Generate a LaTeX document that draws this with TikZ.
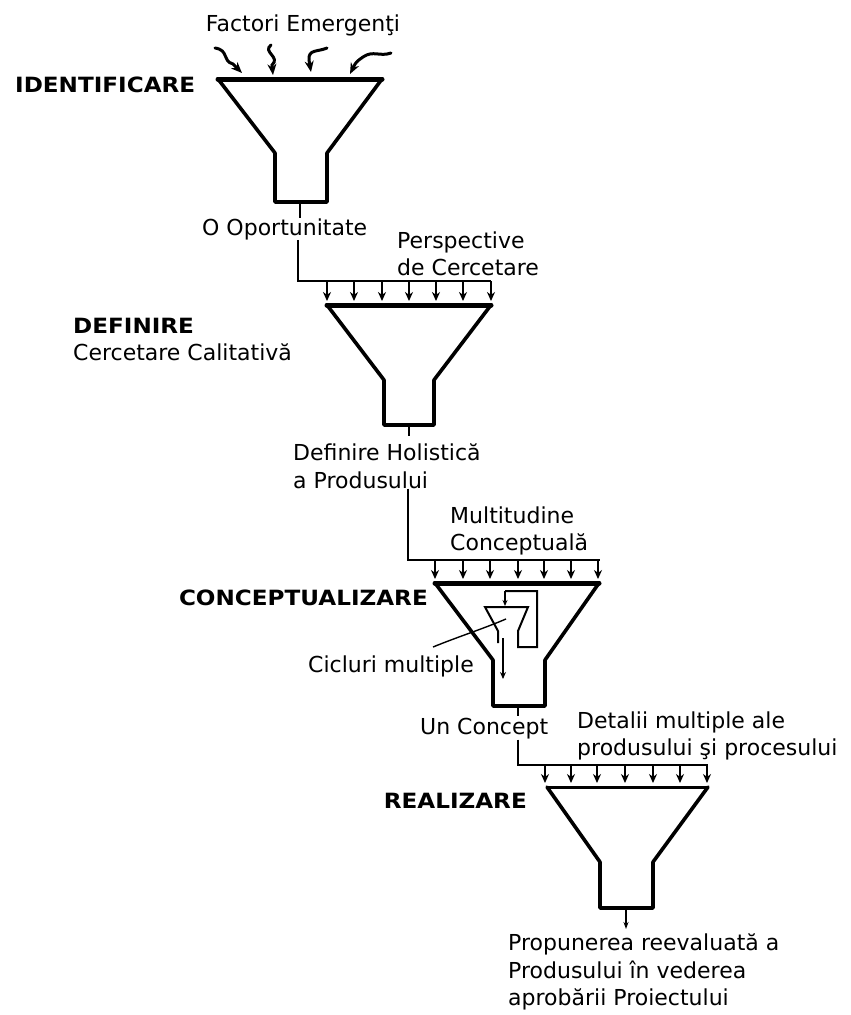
\documentclass[tikz,border=0pt]{standalone}
\usepackage{fontspec}
\setmainfont{DejaVu Sans}
\newfontfamily\stagefam{DejaVu Sans Bold}[FakeStretch=1.1]
\usetikzlibrary{arrows.meta}
\newcommand\lblfont{\fontsize{22}{27.5}\selectfont}
\newcommand\stagefont{\stagefam\fontsize{21}{26}\selectfont}
\tikzset{
  funnelline/.style={line width=3.6pt, line join=round, line cap=round},
  rim/.style={line width=5pt, line cap=round},
  feed/.style={line width=1.8pt, line join=miter},
  drop/.style={line width=1.5pt, -{Stealth[length=9pt,width=8pt]}},
  squiggle/.style={line width=3pt, line cap=round, -{Stealth[length=11pt,width=9pt]}},
  thinline/.style={line width=2pt, line join=miter},
  lbl/.style={font=\lblfont, inner sep=0pt, align=left, anchor=west},
  stagelbl/.style={font=\stagefont, inner sep=0pt, anchor=west},
}
\begin{document}
\begin{tikzpicture}[x=1pt, y=-1pt]
\useasboundingbox (0,0) rectangle (851,1015);

% ---------- stage 1: identificare ----------
\node[lbl, anchor=center] (factori) at (303,25) {Factori Emergenţi};
\node[stagelbl] (identif) at (15,85) {IDENTIFICARE};
\draw[funnelline] (218,79) -- (275,153) -- (275,202) -- (327,202) -- (327,153) -- (382,79);
\draw[rim] (218,79) -- (382,79);
\draw[squiggle] (215,48) .. controls (229,50) and (222,61) .. (233,64) -- (242,73);
\draw[squiggle] (271,45) .. controls (262,52) and (281,57) .. (272,65) -- (273,75);
\draw[squiggle] (327,48) .. controls (318,52) and (308,49) .. (309,60) -- (311,72);
\draw[squiggle] (391,53) .. controls (380,57) and (373,50) .. (363,57) .. controls (356,62) .. (350,74);
\coordinate (f1out) at (300,202);
\node[lbl] (opp) at (202,229) {O Oportunitate};
\draw[feed] (f1out) -- (f1out |- opp.north);

% ---------- stage 2: definire ----------
\node[lbl] (persp) at (397,254) {Perspective\\de Cercetare};
\coordinate (bar2) at (491,281);
\draw[feed] (opp.south -| 298,0) -- (298,281) -- (bar2);
\foreach \x in {327,354,382,409,436,463,491}
  \draw[drop] (\x,281) -- (\x,301);
\draw[funnelline] (327,305) -- (384,380) -- (384,425) -- (434,425) -- (434,380) -- (491,305);
\draw[rim] (327,305) -- (491,305);
\node[stagelbl] (defin) at (73,326) {DEFINIRE};
\node[lbl] (calit) at (73,352) {Cercetare Calitativă};
\coordinate (f2out) at (409,425);
\node[lbl] (holist) at (293,466) {Definire Holistică\\a Produsului};
\draw[feed] (f2out) -- (409,436);

% ---------- stage 3: conceptualizare ----------
\node[lbl] (multi) at (450,531) {Multitudine\\Conceptuală};
\coordinate (bar3) at (600,560);
\draw[feed] (holist.south -| 408,0) -- (408,560) -- (bar3);
\foreach \x in {435,463,490,518,544,571,598}
  \draw[drop] (\x,560) -- (\x,579);
\draw[funnelline] (435,583) -- (493,660) -- (493,706) -- (545,706) -- (545,660) -- (599,583);
\draw[rim] (435,583) -- (599,583);
\node[stagelbl, anchor=east] (concept) at (428,598) {CONCEPTUALIZARE};
% inner cycle: small funnel with a feedback loop
\draw[thinline] (498,643) -- (498,631) -- (485,607) -- (528,607) -- (518,631) -- (518,647) -- (537,647) -- (537,591) -- (505,591);
\draw[line width=1.6pt, -{Stealth[length=6pt,width=5pt]}] (505,591) -- (505,606);
\draw[line width=1.6pt, -{Stealth[length=7pt,width=6pt]}] (503,638) -- (503,679);
\node[lbl] (cicluri) at (308,666) {Cicluri multiple};
\coordinate (cyc) at (506,619);
\draw[line width=1.4pt] (433,647) .. controls (460,636) and (480,630) .. (cyc);
\coordinate (f3out) at (518,706);
\node[lbl] (uncon) at (420,729) {Un Concept};
\draw[feed] (f3out) -- (518,716);

% ---------- stage 4: realizare ----------
\node[lbl] (detalii) at (577,736) {Detalii multiple ale\\produsului şi procesului};
\coordinate (bar4) at (708,765);
\draw[feed] (uncon.south -| 518,0) -- (518,765) -- (bar4);
\foreach \x in {545,571,597,625,653,680,707}
  \draw[drop] (\x,765) -- (\x,783);
\draw[funnelline] (547,787) -- (600,862) -- (600,908) -- (653,908) -- (653,862) -- (708,787);
\draw[line width=3pt] (547,787) -- (708,787);
\node[stagelbl, anchor=east] (realiz) at (527,801) {REALIZARE};
\coordinate (f4out) at (626,908);
\node[lbl] (propun) at (508,972) {Propunerea reevaluată a\\Produsului în vederea\\aprobării Proiectului};
\draw[line width=1.4pt, -{Stealth[length=7pt,width=5pt]}] (f4out) -- (626,929);
\end{tikzpicture}
\end{document}
